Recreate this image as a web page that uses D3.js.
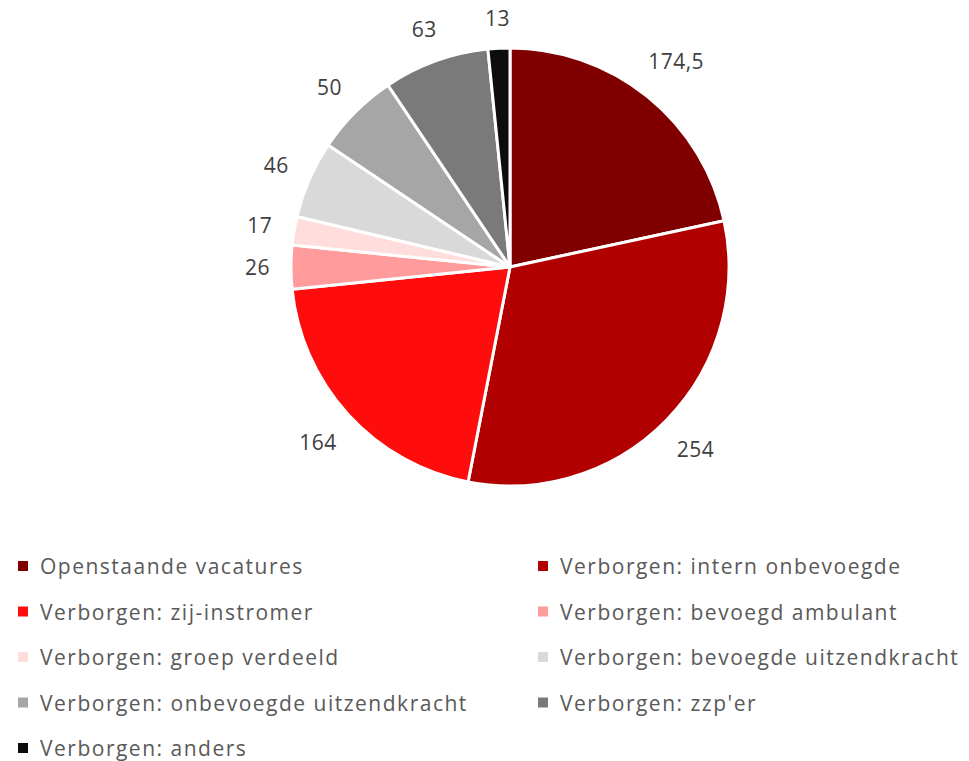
<!DOCTYPE html>
<html>
<head>
<meta charset="utf-8">
<script src="https://cdn.jsdelivr.net/npm/d3@7"></script>
<style>
  body { margin: 0; background: #fff; }
  text { font-family: "Open Sans", Lato, sans-serif; }
</style>
</head>
<body>
<svg width="969" height="761"></svg>
<script>
// data
var categories = ["Openstaande vacatures", "Verborgen: intern onbevoegde", "Verborgen: zij-instromer",
  "Verborgen: bevoegd ambulant", "Verborgen: groep verdeeld", "Verborgen: bevoegde uitzendkracht",
  "Verborgen: onbevoegde uitzendkracht", "Verborgen: zzp'er", "Verborgen: anders"];
var values = [174.5, 254, 164, 26, 17, 46, 50, 63, 13];
var labels = ["174,5", "254", "164", "26", "17", "46", "50", "63", "13"];
var colors = ["#800000", "#b00000", "#ff0d0d", "#ff9b9b", "#ffdddd", "#d9d9d9", "#a6a6a6", "#7a7a7a", "#0d0d0d"];

var svg = d3.select("svg");
var cx = 510, cy = 267, r = 219;

var pie = d3.pie().sort(null).value(function(d) { return d; });
var arc = d3.arc().innerRadius(0).outerRadius(r);
var arcs = pie(values);

var g = svg.append("g").attr("transform", "translate(" + cx + "," + cy + ")");

g.selectAll("path")
  .data(arcs)
  .enter().append("path")
    .attr("d", arc)
    .attr("fill", function(d, i) { return colors[i]; })
    .attr("stroke", "#fff")
    .attr("stroke-width", 3)
    .attr("stroke-linejoin", "round");

// labels outside the end, pushed out so the box clears the circle
var lab = g.selectAll("text.lbl")
  .data(arcs)
  .enter().append("text")
    .attr("class", "lbl")
    .attr("text-anchor", "middle")
    .attr("dominant-baseline", "central")
    .attr("font-size", 21)
    .attr("letter-spacing", 0.5)
    .attr("fill", "#404040")
    .text(function(d, i) { return labels[i]; });

lab.each(function(d) {
  var a = (d.startAngle + d.endAngle) / 2;
  var ux = Math.sin(a), uy = -Math.cos(a);
  var bb = this.getBBox();
  var dist = r + 21 + bb.width / 2 * Math.abs(ux) + 9 * Math.abs(uy);
  d3.select(this).attr("x", dist * ux).attr("y", dist * uy);
});

// legend
var legend = svg.append("g");
var item = legend.selectAll("g")
  .data(categories)
  .enter().append("g")
    .attr("transform", function(d, i) {
      var col = i % 2, row = Math.floor(i / 2);
      return "translate(" + (col ? 538 : 18) + "," + (566 + row * 45.5) + ")";
    });

item.append("rect")
  .attr("x", 0).attr("y", -5)
  .attr("width", 10).attr("height", 10)
  .attr("fill", function(d, i) { return colors[i]; });

item.append("text")
  .attr("x", 22)
  .attr("dominant-baseline", "central")
  .attr("font-size", 21)
  .attr("letter-spacing", 1.5)
  .attr("fill", "#595959")
  .text(function(d) { return d; });
</script>
</body>
</html>
